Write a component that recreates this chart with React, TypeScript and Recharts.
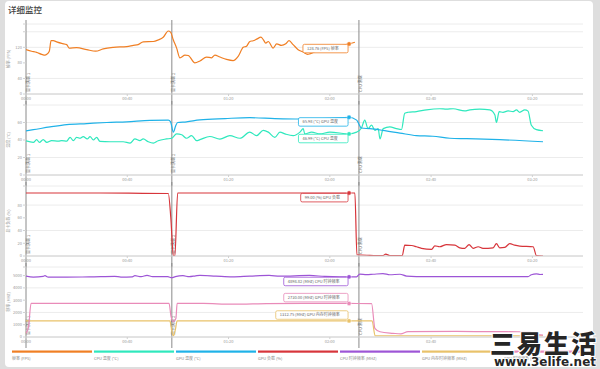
import React from "react";
import { LineChart, Line, XAxis, YAxis, CartesianGrid, ReferenceLine, ReferenceDot } from "recharts";

// time in seconds from start of the run
const fpsTime = [0, 2.2, 4.2, 6.2, 7.5, 8.2, 9.2, 9.9, 10.8, 12.1, 14.1, 16.1, 17, 20, 24, 27.5, 30.5, 34.5, 39.8, 42.4, 44.3, 46.3, 50.3, 52.2, 54.2, 56.2, 57.1, 58.2, 59.5, 60.8, 62.8, 64.1, 66.7, 68.7, 71.3, 73.3, 74.6, 76.6, 79.2, 81.8, 83.8, 85.8, 87.1, 88.4, 89.7, 91.1, 92.8, 93.7, 94.7, 95.7, 97.6, 99, 100.9, 102.6, 103.9, 105.5, 107.5, 109.5, 111.2, 112.1, 115.3, 120, 124, 127.6, 129.9];
const fpsValue = [114, 110, 107, 102, 100, 102, 110, 137, 137, 134, 130, 127, 118, 119, 114, 110, 116, 120, 122, 125, 127, 134, 135, 139, 146, 162, 159, 139, 118, 93, 100, 99, 80, 85, 95, 93, 100, 95, 89, 86, 97, 120, 123, 135, 137, 141, 146, 140, 131, 135, 118, 129, 125, 129, 137, 127, 114, 108, 102, 103, 112, 118, 124, 128.76, 133];

const cpuTempTime = [0, 2.9, 4.2, 5.3, 6.8, 8.2, 10.1, 12.8, 14.1, 16.1, 17.4, 18.7, 20, 21.3, 22.6, 24.2, 25.3, 26.6, 27.9, 29.2, 33.2, 38.4, 41.1, 43, 45, 46.3, 48.3, 50.3, 52.2, 55.5, 57.5, 59.5, 61.5, 63.4, 65.4, 67.4, 68.7, 72.6, 76.6, 80.5, 84.5, 88.4, 91.1, 93.7, 95.7, 98.3, 100.3, 102.3, 105.5, 108.2, 109.5, 110.1, 112.8, 116.1, 120, 127.6, 130.6, 132.5, 133.8, 135.1, 136.5, 137.8, 139.1, 139.8, 141.1, 143.7, 146.3, 148.3, 149.6, 150.9, 154.2, 158.2, 163.4, 166.1, 168.7, 173.3, 175.3, 179.2, 183.2, 185.2, 185.8, 186.9, 188.4, 190.4, 192.4, 193.7, 195, 197, 198.3, 199.6, 201.6, 204.2];
const cpuTempValue = [39, 37.3, 40.4, 37.3, 40.4, 37.3, 39.2, 38.8, 39.2, 38.8, 43.1, 39.2, 43.1, 42, 43.9, 41.2, 43.9, 40, 43.1, 38.4, 38, 38, 36.5, 41.2, 39.2, 41.2, 38, 36.5, 39.2, 41.2, 42, 47, 46, 42, 45, 39.2, 40.4, 44, 41, 45, 42, 49, 45, 51, 49, 43, 49, 47, 45, 49, 53, 47, 49, 47, 49, 46.99, 49, 53.7, 62.7, 53, 56.9, 51, 53, 41.2, 53, 54.9, 53, 52, 70.6, 71.7, 72.5, 74.5, 75.7, 75.3, 75.7, 73.3, 74.5, 75.3, 74.5, 68.6, 60, 72.5, 71.6, 73.3, 72.5, 74.5, 71.6, 74.5, 73, 56.9, 51.8, 50.6];

const gpuTempTime = [0, 2.9, 9.5, 16.1, 24, 31.9, 39.8, 49, 56.2, 57.1, 58.2, 59.1, 59.9, 63.4, 68.7, 78.6, 88.4, 98.3, 108.2, 120, 127.6, 130.6, 132.5, 135.8, 140.9, 147.7, 154.2, 160.7, 167.4, 174, 187.1, 204.2];
const gpuTempValue = [50.5, 51.8, 54.9, 57.6, 58.8, 60, 60.8, 62.4, 62.7, 60.8, 49, 56, 60, 60.8, 63.1, 64.5, 65.5, 64.5, 64, 64.8, 65.98, 62.7, 53.7, 52.9, 51, 47.9, 45, 44.3, 42, 41.5, 40.4, 38];

const gpuLoadTime = [0, 29.2, 46.2, 56.2, 57.2, 58.2, 58.8, 59.9, 127.6, 129.9, 130.7, 135.8, 140.9, 142.1, 143.7, 148.6, 149.6, 152.3, 154.2, 156.2, 160.2, 161.5, 163.4, 166.1, 169.4, 171.3, 173.3, 175, 176.6, 178.6, 180.5, 184.5, 185.8, 187.1, 189.1, 191.1, 193, 195, 200.3, 201.6, 204.2];
const gpuLoadValue = [99, 99, 98.5, 98.2, 60, 0, 0, 99, 99, 99, 2, 1, 0.5, 3, 0.5, 0.5, 17, 16.5, 14.5, 12, 10.4, 16, 14.5, 18, 17, 12.9, 12, 18, 12, 14.5, 12, 12.9, 19.6, 12.9, 13.5, 19.6, 17, 15.5, 14.5, 0.5, 0];

const cpuClockTime = [0, 2.9, 6.8, 7.5, 8.8, 16, 25, 35, 37.5, 42, 43, 45.5, 47.8, 50, 56, 57.6, 59, 62, 64.5, 67, 68.7, 75, 81.5, 88.4, 96, 100.3, 112, 118, 124, 127.6, 130.6, 131.8, 134.5, 137.1, 141, 143.7, 147.7, 150.3, 154.2, 170, 185, 198.3, 199.6, 201.6, 203, 204.2];
const cpuClockValue = [4950, 4880, 4930, 4990, 4880, 4880, 4890, 4940, 4880, 4900, 4990, 4910, 5020, 4920, 4910, 4830, 4920, 4990, 4910, 4980, 5020, 4960, 4900, 4960, 5020, 4950, 5010, 4930, 4900, 4898.82, 4900, 5120, 5080, 5110, 5160, 5070, 5110, 4960, 4920, 4910, 4910, 4920, 5070, 5140, 5090, 5100];

const gpuClockTime = [0, 1, 2, 30, 56.5, 57.3, 58.2, 59.2, 59.7, 70, 81.6, 95, 110, 127.6, 136.5, 137.8, 139.8, 145, 148, 150.9, 170, 190, 199, 200.3, 204.2];
const gpuClockValue = [300, 840, 2740, 2745, 2740, 1650, 1245, 1500, 2740, 2730, 2670, 2720, 2740, 2730, 2720, 700, 430, 300, 250, 440, 450, 430, 420, 250, 160];

const gpuMemTime = [0, 56.8, 57.6, 58.2, 59, 59.7, 127.6, 136.7, 137.9, 204.2];
const gpuMemValue = [1312.75, 1312.75, 500, 100, 600, 1312.75, 1312.75, 1312.75, 101, 101];

const xTicks = [0, 40, 80, 120, 160, 200];
const fpsTicks = [0, 40, 80, 120, 160, 180];
const tempTicks = [0, 20, 40, 60, 80];
const loadTicks = [0, 20, 40, 60, 80, 100, 110];
const clockTicks = [0, 1000, 2000, 3000, 4000, 5000, 5700];

const markerTimes = [0, 57.6, 131.5];
const markerLabels = ["显卡满载 1", "显卡满载 2", "CPU 满载"];

const hoverTime = 127.6;

const legendNames = ["帧率 (FPS)", "CPU 温度 (°C)", "GPU 温度 (°C)", "GPU 负载 (%)", "CPU 时钟频率 (MHz)", "GPU 内存时钟频率 (MHz)", "GPU 时钟频率 (MHz)"];
const legendColors = ["#f07f24", "#2fe8bd", "#1fb2e8", "#d7353b", "#9d55d6", "#e9c26a", "#e98bb9"];

const FONT = '"Noto Sans CJK SC", "Noto Sans", sans-serif';

const zip = (t: number[], v: number[]) => t.map((time, i) => ({ time, value: v[i] }));
const hoverOf = (t: number[], v: number[]) => v[t.indexOf(hoverTime)];

const clock = (s: number) => {
  const m = Math.floor(s / 60);
  const r = Math.round(s % 60);
  return `${String(m).padStart(2, "0")}:${String(r).padStart(2, "0")}`;
};

const textWidth = (s: string, fs: number) => {
  let w = 0;
  for (const ch of s) w += ch.charCodeAt(0) > 255 ? fs : fs * 0.56;
  return w;
};

function HoverBox(props: any) {
  const { viewBox, text, color, place } = props;
  if (!viewBox) return null;
  const cx = viewBox.x + viewBox.width / 2;
  const cy = viewBox.y + viewBox.height / 2;
  const fs = 4;
  const w = textWidth(text, fs) + 8;
  const h = 8.5;
  const x = cx - 1 - w;
  const y = place === "above" ? cy - 1.6 - h : cy + 0.4;
  return (
    <g>
      <rect x={x} y={y} width={w} height={h} rx={1.5} fill="#fff" stroke={color} strokeWidth={0.8} />
      <text x={x + 4} y={y + h / 2 + 1.4} fontSize={fs} fill="#666" fontFamily={FONT}>{text}</text>
    </g>
  );
}

function MarkerLabel(props: any) {
  const { viewBox, text } = props;
  if (!viewBox) return null;
  const x = viewBox.x + 3.5;
  const y = viewBox.y + viewBox.height - 2;
  return (
    <text x={x} y={y} transform={`rotate(-90 ${x} ${y})`} fontSize={4} fill="#666" fontFamily={FONT}>{text}</text>
  );
}

function AxisTitle(props: any) {
  const { viewBox, text } = props;
  if (!viewBox) return null;
  const x = viewBox.x + 10;
  const y = viewBox.y + viewBox.height / 2;
  return (
    <text x={x} y={y} transform={`rotate(-90 ${x} ${y})`} textAnchor="middle" fontSize={4} fill="#999" fontFamily={FONT}>{text}</text>
  );
}

const markerShape = (p: any) => (
  <line x1={p.x1} x2={p.x2} y1={Math.min(p.y1, p.y2) - 4} y2={Math.max(p.y1, p.y2) + 11} stroke="#8a8a8a" strokeWidth={1} />
);

type Series = { name: string; unit: string; color: string; t: number[]; v: number[]; place: string };

function Panel({ top, title, ticks, maxLabel, series }: { top: number; title: string; ticks: number[]; maxLabel: number; series: Series[] }) {
  return (
    <div style={{ position: "absolute", left: 0, top }}>
      <LineChart width={600} height={85} margin={{ top: 4, right: 17, bottom: 0, left: 0 }}>
        <CartesianGrid vertical={false} stroke="#ececec" />
        <XAxis
          dataKey="time"
          type="number"
          domain={[0, 220]}
          ticks={xTicks}
          tickFormatter={clock}
          height={11}
          tickSize={2}
          tickMargin={1}
          stroke="#d0d0d0"
          tick={{ fontSize: 4, fill: "#999", fontFamily: FONT }}
          allowDataOverflow
        />
        <YAxis
          type="number"
          domain={[0, ticks[ticks.length - 1]]}
          ticks={ticks}
          width={26}
          axisLine={false}
          tickSize={3}
          tickMargin={1}
          stroke="#d0d0d0"
          tickFormatter={(v: number) => (v > maxLabel ? "" : String(v))}
          tick={{ fontSize: 4, fill: "#999", fontFamily: FONT }}
          label={<AxisTitle text={title} />}
          allowDataOverflow
        />
        {markerTimes.map((t, i) => (
          <ReferenceLine key={t} x={t} shape={markerShape} label={<MarkerLabel text={markerLabels[i]} />} />
        ))}
        {series.map((s) => (
          <Line
            key={s.name}
            data={zip(s.t, s.v)}
            dataKey="value"
            type="monotone"
            stroke={s.color}
            strokeWidth={1.2}
            dot={false}
            activeDot={false}
            isAnimationActive={false}
          />
        ))}
        {series.map((s) => {
          const hv = hoverOf(s.t, s.v);
          return (
            <ReferenceDot
              key={s.name + "-dot"}
              x={hoverTime}
              y={hv}
              r={2.2}
              fill={s.color}
              stroke="#fff"
              strokeWidth={0.5}
              label={<HoverBox text={`${hv.toFixed(2)} (${s.unit}) ${s.name}`} color={s.color} place={s.place} />}
            />
          );
        })}
      </LineChart>
    </div>
  );
}

export default function App() {
  const c = legendColors;
  return (
    <div style={{ position: "absolute", left: 0, top: 0, width: 600, height: 369, background: "#dedede", overflow: "hidden", fontFamily: FONT }}>
      <div style={{ position: "absolute", left: 5, top: 1, width: 588, height: 366, background: "#fff", borderRadius: 4 }} />
      <div style={{ position: "absolute", left: 8, top: 3, fontSize: 8.5, lineHeight: "12px", color: "#444", fontWeight: 500 }}>详细监控</div>
      <Panel
        top={20}
        title="帧率 (FPS)"
        ticks={fpsTicks}
        maxLabel={120}
        series={[{ name: "帧率", unit: "FPS", color: c[0], t: fpsTime, v: fpsValue, place: "below" }]}
      />
      <Panel
        top={101}
        title="温度 (°C)"
        ticks={tempTicks}
        maxLabel={60}
        series={[
          { name: "CPU 温度", unit: "°C", color: c[1], t: cpuTempTime, v: cpuTempValue, place: "below" },
          { name: "GPU 温度", unit: "°C", color: c[2], t: gpuTempTime, v: gpuTempValue, place: "below" },
        ]}
      />
      <Panel
        top={182}
        title="显卡负载 (%)"
        ticks={loadTicks}
        maxLabel={100}
        series={[{ name: "GPU 负载", unit: "%", color: c[3], t: gpuLoadTime, v: gpuLoadValue, place: "below" }]}
      />
      <Panel
        top={263}
        title="频率 (MHz)"
        ticks={clockTicks}
        maxLabel={5000}
        series={[
          { name: "CPU 时钟频率", unit: "MHz", color: c[4], t: cpuClockTime, v: cpuClockValue, place: "below" },
          { name: "GPU 内存时钟频率", unit: "MHz", color: c[5], t: gpuMemTime, v: gpuMemValue, place: "above" },
          { name: "GPU 时钟频率", unit: "MHz", color: c[6], t: gpuClockTime, v: gpuClockValue, place: "above" },
        ]}
      />
      <svg width={600} height={369} style={{ position: "absolute", left: 0, top: 0, pointerEvents: "none" }}>
        {legendNames.map((n, i) => (
          <g key={n}>
            <rect x={12 + 82 * i} y={350.5} width={80} height={2.2} fill={legendColors[i]} />
            <text x={12 + 82 * i} y={359.5} fontSize={4} fill="#888" fontFamily={FONT}>{n}</text>
          </g>
        ))}
        <text x={490} y={353} fontSize={25} fontWeight={900} fill="#262626" stroke="#fff" strokeWidth={2} paintOrder="stroke" fontFamily={FONT} textLength={106}>三易生活</text>
        <text x={494} y={366} fontSize={12} fontWeight={900} fill="#262626" stroke="#fff" strokeWidth={1.5} paintOrder="stroke" fontFamily="DejaVu Sans, sans-serif" textLength={102}>www.3elife.net</text>
      </svg>
    </div>
  );
}
